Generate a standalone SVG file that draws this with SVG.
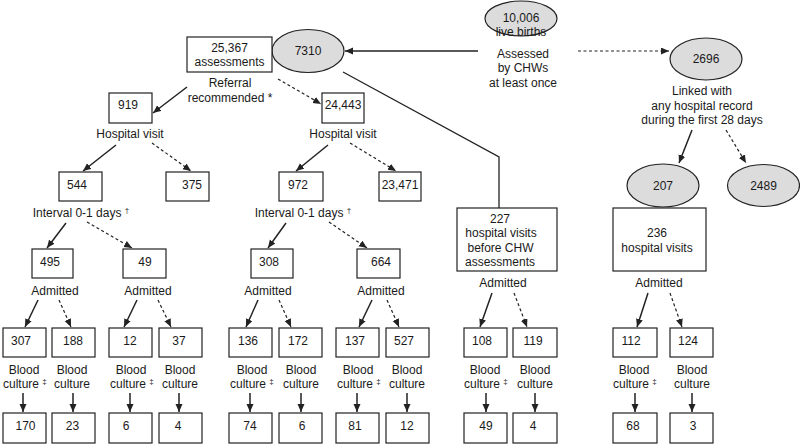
<svg xmlns="http://www.w3.org/2000/svg" width="800" height="445" viewBox="0 0 800 445">
<style>
text{font-family:"Liberation Sans",Arial,sans-serif;font-size:12px;fill:#1a1a1a;text-anchor:middle}
.b{fill:#fff;stroke:#222;stroke-width:1.2}
.e{fill:#dcdcdc;stroke:#222;stroke-width:1.2}
.l{fill:none;stroke:#222;stroke-width:1.3}
.s{stroke:#222;stroke-width:1.5;fill:none}
.d{stroke:#222;stroke-width:1.2;fill:none;stroke-dasharray:3 2.5}
.st{text-anchor:start}
.sup{font-size:8px}
</style>
<defs>
<marker id="ah" markerUnits="userSpaceOnUse" markerWidth="9" markerHeight="8" refX="8" refY="3.5" orient="auto">
<path d="M0,0 L8,3.5 L0,7 z" fill="#222"/>
</marker>
</defs>
<rect width="800" height="445" fill="#fff"/>

<g id="connectors">
<line class="s" x1="478" y1="51" x2="345" y2="51" marker-end="url(#ah)"/>
<line class="d" x1="578" y1="51" x2="669" y2="51" marker-end="url(#ah)"/>
<polyline class="l" points="343,72 499,157 499,208"/>
<line class="s" x1="187" y1="87" x2="153" y2="113" marker-end="url(#ah)"/>
<line class="d" x1="278" y1="79" x2="321" y2="104" marker-end="url(#ah)"/>
<line class="s" x1="116" y1="145" x2="83" y2="171" marker-end="url(#ah)"/>
<line class="d" x1="152" y1="143" x2="191" y2="171" marker-end="url(#ah)"/>
<line class="s" x1="328" y1="145" x2="296" y2="171" marker-end="url(#ah)"/>
<line class="d" x1="350" y1="143" x2="396" y2="171" marker-end="url(#ah)"/>
<line class="s" x1="66" y1="223" x2="47" y2="248" marker-end="url(#ah)"/>
<line class="d" x1="87" y1="222" x2="132" y2="248" marker-end="url(#ah)"/>
<line class="s" x1="286" y1="223" x2="268" y2="248" marker-end="url(#ah)"/>
<line class="d" x1="329" y1="222" x2="367" y2="248" marker-end="url(#ah)"/>
<line class="s" x1="692" y1="130" x2="679" y2="163" marker-end="url(#ah)"/>
<line class="d" x1="726" y1="130" x2="746" y2="163" marker-end="url(#ah)"/>
<line class="s" x1="38" y1="300" x2="25" y2="327" marker-end="url(#ah)"/>
<line class="d" x1="59" y1="300" x2="71" y2="327" marker-end="url(#ah)"/>
<line class="s" x1="137" y1="300" x2="124" y2="327" marker-end="url(#ah)"/>
<line class="d" x1="158" y1="300" x2="171" y2="327" marker-end="url(#ah)"/>
<line class="s" x1="258" y1="300" x2="246" y2="327" marker-end="url(#ah)"/>
<line class="d" x1="279" y1="300" x2="291" y2="327" marker-end="url(#ah)"/>
<line class="s" x1="372" y1="300" x2="359" y2="327" marker-end="url(#ah)"/>
<line class="d" x1="387" y1="300" x2="399" y2="327" marker-end="url(#ah)"/>
<line class="s" x1="492" y1="293" x2="480" y2="327" marker-end="url(#ah)"/>
<line class="d" x1="514" y1="293" x2="527" y2="327" marker-end="url(#ah)"/>
<line class="s" x1="648" y1="293" x2="637" y2="327" marker-end="url(#ah)"/>
<line class="d" x1="670" y1="293" x2="682" y2="327" marker-end="url(#ah)"/>
<line class="s" x1="23" y1="393" x2="23" y2="412" marker-end="url(#ah)"/>
<line class="s" x1="73" y1="393" x2="73" y2="412" marker-end="url(#ah)"/>
<line class="s" x1="130" y1="393" x2="130" y2="412" marker-end="url(#ah)"/>
<line class="s" x1="179" y1="393" x2="179" y2="412" marker-end="url(#ah)"/>
<line class="s" x1="250" y1="393" x2="250" y2="412" marker-end="url(#ah)"/>
<line class="s" x1="301" y1="393" x2="301" y2="412" marker-end="url(#ah)"/>
<line class="s" x1="357" y1="393" x2="357" y2="412" marker-end="url(#ah)"/>
<line class="s" x1="407" y1="393" x2="407" y2="412" marker-end="url(#ah)"/>
<line class="s" x1="486" y1="393" x2="486" y2="412" marker-end="url(#ah)"/>
<line class="s" x1="535" y1="393" x2="535" y2="412" marker-end="url(#ah)"/>
<line class="s" x1="635" y1="393" x2="635" y2="412" marker-end="url(#ah)"/>
<line class="s" x1="692" y1="393" x2="692" y2="412" marker-end="url(#ah)"/>
</g>

<g id="n10006"><ellipse class="e" cx="521" cy="18.5" rx="36" ry="17.5"/><text x="521" y="21.5">10,006</text><text x="521" y="36">live births</text></g>
<g id="lbl-assessed"><text x="523" y="57.5">Assessed</text><text x="523" y="72">by CHWs</text><text x="523" y="86.5">at least once</text></g>
<g id="n7310"><ellipse class="e" cx="308" cy="51" rx="36" ry="21.5"/><text x="308" y="55.3">7310</text></g>
<g id="n2696"><ellipse class="e" cx="706" cy="59" rx="36" ry="21"/><text x="706" y="63.3">2696</text></g>
<g id="lbl-linked"><text x="702" y="95">Linked with</text><text x="702" y="109.5">any hospital record</text><text x="702" y="124">during the first 28 days</text></g>
<g id="n25367"><rect class="b" x="187" y="37" width="85" height="35"/><text x="229.5" y="52.3">25,367</text><text x="229.5" y="66.3">assessments</text></g>
<g id="lbl-referral"><text x="230" y="87">Referral</text><text x="230" y="101.5">recommended *</text></g>

<g id="n919"><rect class="b" x="109" y="93" width="43" height="30"/><text x="128" y="109.3">919</text></g>
<g id="n24443"><rect class="b" x="322" y="93" width="42" height="30"/><text x="343" y="109.3">24,443</text></g>
<g id="lbl-hv1"><text x="130" y="138.3">Hospital visit</text></g>
<g id="lbl-hv2"><text x="343" y="138.3">Hospital visit</text></g>

<g id="n544"><rect class="b" x="59" y="172" width="43" height="29"/><text x="77" y="188.5">544</text></g>
<g id="n375"><rect class="b" x="166" y="172" width="43" height="29"/><text x="192" y="188.5">375</text></g>
<g id="n972"><rect class="b" x="279" y="172" width="44" height="29"/><text x="298" y="188.5">972</text></g>
<g id="n23471"><rect class="b" x="379" y="172" width="42" height="29"/><text x="400" y="188.5">23,471</text></g>
<g id="lbl-int1"><text x="81" y="216.5">Interval 0-1 days <tspan class="sup" dy="-4">†</tspan></text></g>
<g id="lbl-int2"><text x="303" y="216.5">Interval 0-1 days <tspan class="sup" dy="-4">†</tspan></text></g>

<g id="n207"><ellipse class="e" cx="663" cy="185.5" rx="36" ry="21.5"/><text x="663" y="189.8">207</text></g>
<g id="n2489"><ellipse class="e" cx="763.5" cy="185.5" rx="36" ry="21"/><text x="763.5" y="189.8">2489</text></g>
<g id="n227"><rect class="b" x="457" y="208" width="100" height="63"/><text x="500" y="223">227</text><text x="501" y="237">hospital visits</text><text x="500.5" y="252">before CHW</text><text x="500" y="266">assessments</text></g>
<g id="n236"><rect class="b" x="613" y="208" width="93" height="63"/><text x="657" y="237">236</text><text x="657" y="251.7">hospital visits</text></g>

<g id="n495"><rect class="b" x="32" y="249" width="41" height="29"/><text x="50" y="266">495</text></g>
<g id="n49"><rect class="b" x="123" y="249" width="43" height="29"/><text x="145" y="266">49</text></g>
<g id="n308"><rect class="b" x="251" y="249" width="42" height="29"/><text x="269" y="266">308</text></g>
<g id="n664"><rect class="b" x="357" y="249" width="43" height="29"/><text x="381" y="266">664</text></g>

<g id="lbl-adm"><text x="55" y="295">Admitted</text><text x="148" y="295">Admitted</text><text x="268" y="295">Admitted</text><text x="381" y="295">Admitted</text><text x="503" y="287">Admitted</text><text x="659" y="287">Admitted</text></g>

<g id="n307"><rect class="b" x="3" y="328" width="43" height="29"/><text x="21" y="345">307</text></g>
<g id="n188"><rect class="b" x="52" y="328" width="43" height="29"/><text x="73" y="345">188</text></g>
<g id="n12a"><rect class="b" x="109" y="328" width="43" height="29"/><text x="130" y="345">12</text></g>
<g id="n37"><rect class="b" x="159" y="328" width="43" height="29"/><text x="179" y="345">37</text></g>
<g id="n136"><rect class="b" x="229" y="328" width="43" height="29"/><text x="248" y="345">136</text></g>
<g id="n172"><rect class="b" x="279" y="328" width="43" height="29"/><text x="298" y="345">172</text></g>
<g id="n137"><rect class="b" x="336" y="328" width="43" height="29"/><text x="355" y="345">137</text></g>
<g id="n527"><rect class="b" x="386" y="328" width="43" height="29"/><text x="404" y="345">527</text></g>
<g id="n108"><rect class="b" x="464" y="328" width="43" height="29"/><text x="482" y="345">108</text></g>
<g id="n119"><rect class="b" x="513" y="328" width="44" height="29"/><text x="533" y="345">119</text></g>
<g id="n112"><rect class="b" x="613" y="328" width="44" height="29"/><text x="631" y="345">112</text></g>
<g id="n124"><rect class="b" x="670" y="328" width="43" height="29"/><text x="688" y="345">124</text></g>

<g id="lbl-bc">
<text x="24" y="373.5">Blood</text><text class="st" x="3" y="387.5">culture <tspan class="sup" dy="-4">‡</tspan></text>
<text x="72" y="373.5">Blood</text><text x="72" y="387.5">culture</text>
<text x="131" y="373.5">Blood</text><text class="st" x="110" y="387.5">culture <tspan class="sup" dy="-4">‡</tspan></text>
<text x="180" y="373.5">Blood</text><text x="180" y="387.5">culture</text>
<text x="252" y="373.5">Blood</text><text class="st" x="230" y="387.5">culture <tspan class="sup" dy="-4">‡</tspan></text>
<text x="301" y="373.5">Blood</text><text x="301" y="387.5">culture</text>
<text x="358" y="373.5">Blood</text><text class="st" x="337" y="387.5">culture <tspan class="sup" dy="-4">‡</tspan></text>
<text x="407" y="373.5">Blood</text><text x="407" y="387.5">culture</text>
<text x="485" y="373.5">Blood</text><text class="st" x="464" y="387.5">culture <tspan class="sup" dy="-4">‡</tspan></text>
<text x="535" y="373.5">Blood</text><text x="535" y="387.5">culture</text>
<text x="634" y="373.5">Blood</text><text class="st" x="613" y="387.5">culture <tspan class="sup" dy="-4">‡</tspan></text>
<text x="692" y="373.5">Blood</text><text x="692" y="387.5">culture</text>
</g>

<g id="n170"><rect class="b" x="3" y="413" width="43" height="30"/><text x="25.5" y="429.5">170</text></g>
<g id="n23"><rect class="b" x="52" y="413" width="43" height="30"/><text x="72.5" y="429.5">23</text></g>
<g id="n6a"><rect class="b" x="109" y="413" width="43" height="30"/><text x="126" y="429.5">6</text></g>
<g id="n4a"><rect class="b" x="159" y="413" width="43" height="30"/><text x="178" y="429.5">4</text></g>
<g id="n74"><rect class="b" x="229" y="413" width="43" height="30"/><text x="250" y="429.5">74</text></g>
<g id="n6b"><rect class="b" x="279" y="413" width="43" height="30"/><text x="302" y="429.5">6</text></g>
<g id="n81"><rect class="b" x="336" y="413" width="43" height="30"/><text x="355" y="429.5">81</text></g>
<g id="n12b"><rect class="b" x="386" y="413" width="43" height="30"/><text x="407" y="429.5">12</text></g>
<g id="n49b"><rect class="b" x="464" y="413" width="43" height="30"/><text x="486" y="429.5">49</text></g>
<g id="n4b"><rect class="b" x="513" y="413" width="44" height="30"/><text x="533" y="429.5">4</text></g>
<g id="n68"><rect class="b" x="613" y="413" width="44" height="30"/><text x="633" y="429.5">68</text></g>
<g id="n3"><rect class="b" x="670" y="413" width="43" height="30"/><text x="693" y="429.5">3</text></g>
</svg>
